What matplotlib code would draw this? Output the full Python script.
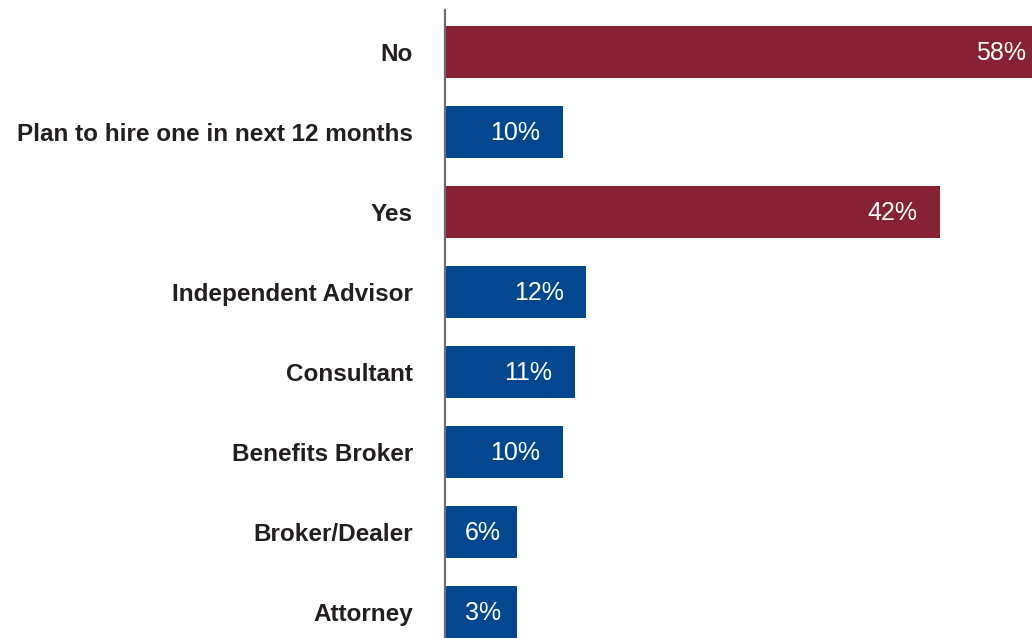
import matplotlib.pyplot as plt
import numpy as np

categories = ["No", "Plan to hire one in next 12 months", "Yes", "Independent Advisor",
              "Consultant", "Benefits Broker", "Broker/Dealer", "Attorney"]
values = [58, 10, 42, 12, 11, 10, 6, 3]
colors = ["#862234", "#03488e", "#862234", "#03488e", "#03488e", "#03488e", "#03488e", "#03488e"]

plt.rcParams['font.family'] = ['Liberation Sans', 'DejaVu Sans']

fig = plt.figure(figsize=(10.32, 6.38), dpi=100)
ax = fig.add_axes([445 / 1032, 0, 1 - 445 / 1032, 1])

# small bars get a minimum length so the label fits inside
min_len = 6.1
lengths = [max(v, min_len) for v in values]
y = np.arange(len(categories))
ax.barh(y, lengths, height=0.65, color=colors, zorder=2)

xmax = 49.8
ax.set_xlim(0, xmax)
ax.set_ylim(7.33, -0.65)

for yi, L, v in zip(y, lengths, values):
    if L > xmax:
        off = -4
    elif v < 10:
        off = -11.5
    else:
        off = -16.5
    ax.annotate(f"{v}%", xy=(min(L, xmax), yi), xytext=(off, -1),
                textcoords="offset points", ha="right", va="center",
                color="white", fontsize=18)

ax.set_yticks(y)
ax.set_yticklabels(categories, fontsize=17.5, color="#231f20", fontweight="bold")
ax.tick_params(axis="y", length=0, pad=23)
ax.set_xticks([])
for s in ["top", "right", "bottom"]:
    ax.spines[s].set_visible(False)
ax.spines["left"].set_color("#6d6d6d")
ax.spines["left"].set_linewidth(1.6)
ax.spines["left"].set_bounds(-0.525, 7.33)
ax.spines["left"].set_zorder(3)

fig.savefig("out.png", dpi=100)
